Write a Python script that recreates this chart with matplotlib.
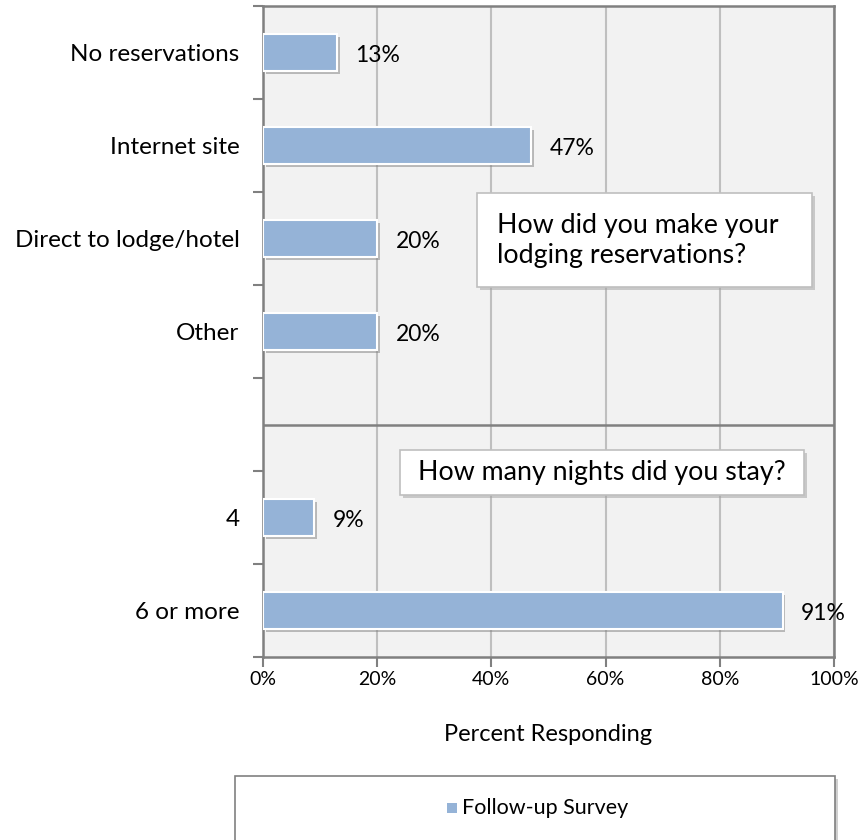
import matplotlib
matplotlib.use("Agg")
import matplotlib.pyplot as plt
import matplotlib.patheffects as pe
from matplotlib.patches import Rectangle
import numpy as np

plt.rcParams['font.family'] = ['Lato', 'DejaVu Sans']

categories = ["No reservations", "Internet site", "Direct to lodge/hotel", "Other", "", "4", "6 or more"]
values = [13, 47, 20, 20, None, 9, 91]
xticks = [0, 20, 40, 60, 80, 100]
xtick_labels = ["0%", "20%", "40%", "60%", "80%", "100%"]
series_name = "Follow-up Survey"
box1_text = "How did you make your\nlodging reservations?"
box2_text = "How many nights did you stay?"
xlabel = "Percent Responding"

W, H = 863, 840
fig = plt.figure(figsize=(W / 100, H / 100), dpi=100)
fig.patch.set_facecolor("white")
ax = fig.add_axes([263 / W, 1 - 657 / H, (834 - 263) / W, (657 - 6) / H])
ax.set_facecolor("#F2F2F2")

bar_color = "#95B3D7"
pos = np.arange(len(categories))
for i, v in enumerate(values):
    if v is None:
        continue
    b = ax.barh(pos[i], v, height=0.4, color=bar_color, edgecolor="white", linewidth=1.5, zorder=3)
    for patch in b:
        patch.set_path_effects([pe.SimplePatchShadow(offset=(2, -2), shadow_rgbFace="#7f7f7f", alpha=0.5), pe.Normal()])
    ax.text(v + 3.2, pos[i] + 0.03, f"{v}%", va="center", ha="left", fontsize=16.5, color="black", zorder=4)

ax.set_xlim(0, 100)
ax.set_ylim(len(categories) - 0.5, -0.5)

ax.set_xticks(xticks)
ax.set_xticklabels(xtick_labels, fontsize=14)
ax.tick_params(axis="x", length=7, width=1.5, color="#808080", pad=3)

ax.set_yticks(np.arange(-0.5, len(categories), 1))
ax.set_yticklabels([])
ax.set_yticks(pos, minor=True)
ax.set_yticklabels(categories, minor=True, fontsize=17.5)
ax.tick_params(axis="y", which="major", length=7, width=1.5, color="#808080")
ax.tick_params(axis="y", which="minor", length=0, pad=17)

ax.grid(axis="x", color="#BFBFBF", linewidth=1.5, zorder=0)
ax.set_axisbelow(True)
for s in ax.spines.values():
    s.set_color("#808080")
    s.set_linewidth(1.8)

ax.axhline(4, color="#808080", linewidth=1.8, zorder=2)

ax.set_xlabel(xlabel, fontsize=17, labelpad=26)


def fbox(x0, y0, x1, y1, text, fs, ha="center", tx=None):
    # pixel coords (top-left origin)
    fx, fy = x0 / W, 1 - y1 / H
    fw, fh = (x1 - x0) / W, (y1 - y0) / H
    sh = Rectangle((fx + 3 / W, fy - 3 / H), fw, fh, transform=fig.transFigure,
                   facecolor="#a0a0a0", alpha=0.5, edgecolor="none", zorder=5)
    fig.add_artist(sh)
    r = Rectangle((fx, fy), fw, fh, transform=fig.transFigure,
                  facecolor="white", edgecolor="#BFBFBF", linewidth=1.2, zorder=6)
    fig.add_artist(r)
    if tx is None:
        tx = (x0 + x1) / 2
    fig.text(tx / W, 1 - (y0 + y1) / 2 / H, text, ha=ha, va="center", fontsize=fs,
             zorder=7, linespacing=1.25)


fbox(477, 193, 812, 287, box1_text, 19.3, ha="left", tx=497)
fbox(400, 450, 804, 495, box2_text, 19.3)

# legend box
lx0, ly0, lx1, ly1 = 235, 776, 835, 845
fig.add_artist(Rectangle((lx0 / W + 3 / W, 1 - ly1 / H - 3 / H), (lx1 - lx0) / W, (ly1 - ly0) / H,
                         transform=fig.transFigure, facecolor="#a0a0a0", alpha=0.5,
                         edgecolor="none", zorder=5))
fig.add_artist(Rectangle((lx0 / W, 1 - ly1 / H), (lx1 - lx0) / W, (ly1 - ly0) / H,
                         transform=fig.transFigure, facecolor="white", edgecolor="#808080",
                         linewidth=1.2, zorder=6))
fig.add_artist(Rectangle((447 / W, 1 - 813 / H), 10 / W, 10 / H, transform=fig.transFigure,
                         facecolor=bar_color, edgecolor="none", zorder=7))
fig.text(462 / W, 1 - 808 / H, series_name, ha="left", va="center", fontsize=15.5, zorder=7)

fig.savefig("out.png", dpi=100, facecolor="white")
